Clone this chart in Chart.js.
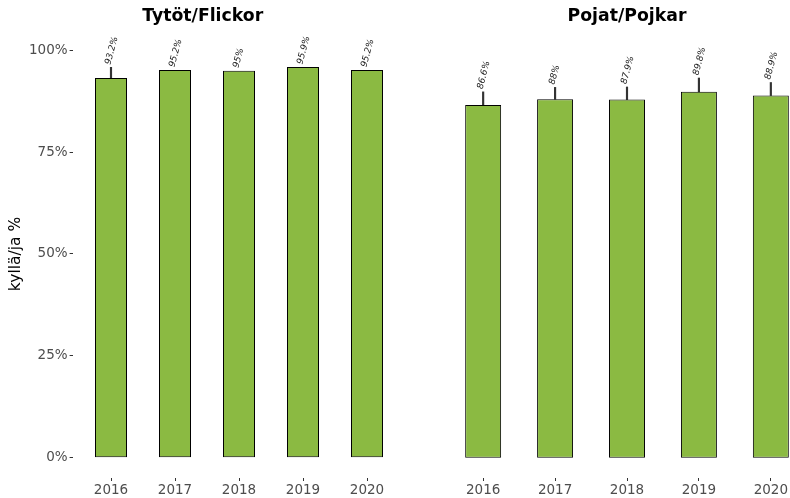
<!DOCTYPE html>
<html>
<head>
<meta charset="utf-8">
<script src="https://cdn.jsdelivr.net/npm/chart.js@4.4.0/dist/chart.umd.min.js"></script>
<style>
  html, body { margin: 0; padding: 0; background: #ffffff; overflow: hidden; width: 790px; height: 498px; }
  canvas { position: absolute; top: 0; }
  #girls { left: 0; }
  #boys { left: 440px; }
</style>
</head>
<body>
<canvas id="girls" width="478" height="498"></canvas>
<canvas id="boys" width="374" height="498"></canvas>
<script>
// Share answering "kyllä/ja" by year, girls and boys
const years = ['2016', '2017', '2018', '2019', '2020'];
const yTicks = [0, 25, 50, 75, 100];

const girlsValues = [93.2, 95.2, 95.0, 95.9, 95.2];
const girlsUpper  = [95.8, null, null, null, null];

const boysValues = [86.6, 88.0, 87.9, 89.8, 88.9];
const boysUpper  = [89.8, 90.9, 91.0, 93.2, 92.1];

const BAR_FILL = '#8BBA42';
const INK = '#333333';
const TICK_TEXT = '#4d4d4d';
const FONT = '"DejaVu Sans", "Liberation Sans", sans-serif';

// Rotated value labels sitting above each bar (or its upper whisker)
const valueLabels = {
  id: 'valueLabels',
  afterDatasetsDraw(chart, args, opts) {
    const { ctx, scales: { x, y } } = chart;
    ctx.save();
    ctx.font = 'italic 9px ' + FONT;
    ctx.fillStyle = '#1a1a1a';
    ctx.textAlign = 'left';
    ctx.textBaseline = 'middle';
    opts.values.forEach((v, i) => {
      const top = opts.upper[i] != null ? opts.upper[i] : v;
      const px = x.getPixelForValue(i + 1) - 3;
      const py = y.getPixelForValue(top) - 3;
      ctx.save();
      ctx.translate(px, py);
      ctx.rotate(-75 * Math.PI / 180);
      ctx.fillText(String(v) + '%', 0, 0);
      ctx.restore();
    });
    ctx.restore();
  }
};

function panel(canvasId, title, values, upper, withYAxis) {
  const bars = values.map((v, i) => ({ x: i + 1, y: v }));
  const whiskers = values.map((v, i) => ({ x: i + 1, y: upper[i] != null ? [v, upper[i]] : null }));

  return new Chart(document.getElementById(canvasId), {
    type: 'bar',
    data: {
      datasets: [
        {
          data: whiskers,
          backgroundColor: INK,
          borderWidth: 0,
          grouped: false,
          maxBarThickness: 1.5,
          categoryPercentage: 1,
          barPercentage: 1,
          order: 2
        },
        {
          data: bars,
          backgroundColor: BAR_FILL,
          borderColor: '#000000',
          borderWidth: 1,
          borderSkipped: false,
          grouped: false,
          categoryPercentage: 1,
          barPercentage: 0.5,
          order: 1
        }
      ]
    },
    options: {
      responsive: false,
      animation: false,
      devicePixelRatio: 1,
      layout: { padding: { left: 0, right: withYAxis ? 72.6 : 0, top: 0, bottom: 0 } },
      plugins: {
        legend: { display: false },
        tooltip: { enabled: false },
        title: {
          display: true,
          text: title,
          color: '#000000',
          font: { family: FONT, size: 17.3, weight: 'bold', lineHeight: 1.2 },
          padding: { top: 6.2, bottom: 3.0 }
        },
        valueLabels: { values: values, upper: upper }
      },
      scales: {
        x: {
          type: 'linear',
          min: 0.4,
          max: 5.6,
          offset: false,
          afterBuildTicks: s => { s.ticks = years.map((_, i) => ({ value: i + 1 })); },
          afterFit: s => { s.height = 20; },
          ticks: {
            callback: v => years[v - 1],
            color: TICK_TEXT,
            font: { family: FONT, size: 13.5 },
            padding: 1,
            maxRotation: 0
          },
          grid: { offset: false, drawOnChartArea: false, drawTicks: true, tickLength: 3, color: INK, lineWidth: 1 },
          border: { display: false }
        },
        y: {
          display: withYAxis,
          min: -5,
          max: 105,
          afterBuildTicks: s => { s.ticks = yTicks.map(v => ({ value: v })); },
          afterFit: s => { s.width = withYAxis ? 72.6 : 0; },
          ticks: {
            callback: v => v + '%',
            color: TICK_TEXT,
            font: { family: FONT, size: 13.5 },
            padding: 2
          },
          grid: { drawOnChartArea: false, drawTicks: true, tickLength: 3, color: INK, lineWidth: 1 },
          border: { display: false },
          title: {
            display: true,
            text: 'kyllä/ja %',
            color: '#000000',
            font: { family: FONT, size: 15.5 },
            padding: { top: 7, bottom: 0 }
          }
        }
      }
    },
    plugins: [valueLabels]
  });
}

panel('girls', 'Tytöt/Flickor', girlsValues, girlsUpper, true);
panel('boys', 'Pojat/Pojkar', boysValues, boysUpper, false);
</script>
</body>
</html>
